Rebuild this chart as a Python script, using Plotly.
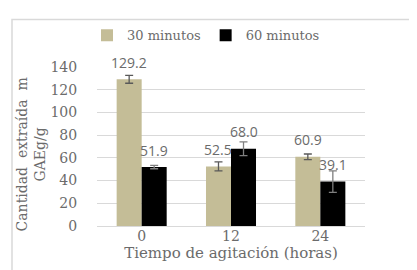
import plotly.graph_objects as go

categories = ["0", "12", "24"]
series_names = ["30 minutos", "60 minutos"]
values_30 = [129.2, 52.5, 60.9]
errors_30 = [3.5, 4.0, 2.5]
values_60 = [51.9, 68.0, 39.1]
errors_60 = [1.5, 6.0, 9.5]
y_ticks = [0, 20, 40, 60, 80, 100, 120, 140]

W, H = 417, 270
L, R, T, B = 89, 60, 57, 52
pw, ph = W - L - R, H - T - B

serif = "DejaVu Serif"
sans = "Open Sans"
grey = "#6b6b6b"

fig = go.Figure()
fig.add_trace(go.Bar(
    x=categories, y=values_30, name=series_names[0],
    marker=dict(color="#c4bd97", line=dict(width=0)),
    error_y=dict(type="data", array=errors_30, color="#595959", thickness=1.3, width=4),
))
fig.add_trace(go.Bar(
    x=categories, y=values_60, name=series_names[1],
    marker=dict(color="#000000", line=dict(width=0)),
    error_y=dict(type="data", array=errors_60, color="#7f7f7f", thickness=1.3, width=4),
))

bar_px = pw / len(categories) * (1 - 0.44) / 2
annotations = []
for vals, shift in ((values_30, -bar_px / 2), (values_60, bar_px / 2)):
    for i, v in enumerate(vals):
        annotations.append(dict(
            x=i, y=v, xref="x", yref="y", text=f"{v:.1f}", showarrow=False,
            xshift=shift, yshift=17, yanchor="middle", xanchor="center",
            font=dict(family=sans, size=14, color=grey),
        ))

annotations.append(dict(
    x=(23 - L) / pw, y=0.45, xref="paper", yref="paper",
    text="Cantidad\u00a0\u00a0extraída\u00a0\u00a0m<br>GAEg/g", showarrow=False,
    textangle=-90, xanchor="center", yanchor="middle",
    font=dict(family=serif, size=14, color=grey),
))

fig.update_layout(
    width=W, height=H,
    margin=dict(l=L, r=R, t=T, b=B),
    paper_bgcolor="white", plot_bgcolor="white",
    barmode="group", bargap=0.44, bargroupgap=0,
    showlegend=True,
    legend=dict(orientation="h", x=(198 - L) / pw, xanchor="center", y=1 + (T - 25) / ph,
                yanchor="middle", font=dict(family=serif, size=13, color=grey),
                itemwidth=30, traceorder="normal", bgcolor="rgba(0,0,0,0)"),
    xaxis=dict(
        type="category", range=[-0.5, 2.5], showgrid=False, zeroline=False, showline=False,
        ticks="", tickfont=dict(family=serif, size=14, color=grey),
        title=dict(text="Tiempo de agitación (horas)", standoff=2,
                   font=dict(family=serif, size=15, color=grey)),
    ),
    yaxis=dict(
        range=[0, 140], tickvals=y_ticks, showgrid=True, gridcolor="#d9d9d9", gridwidth=1,
        zeroline=True, zerolinecolor="#d9d9d9", zerolinewidth=1, showline=False,
        ticks="outside", ticklen=16, tickcolor="rgba(0,0,0,0)",
        tickfont=dict(family=serif, size=14, color=grey),
    ),
    annotations=annotations,
    shapes=[dict(type="rect", xref="paper", yref="paper",
                 x0=(4 - L) / pw, x1=(410 - L) / pw,
                 y0=(H - T - 262) / ph, y1=(H - T - 4) / ph,
                 line=dict(color="#d9d9d9", width=1.5), layer="below")],
)

fig.write_html("out.html")
